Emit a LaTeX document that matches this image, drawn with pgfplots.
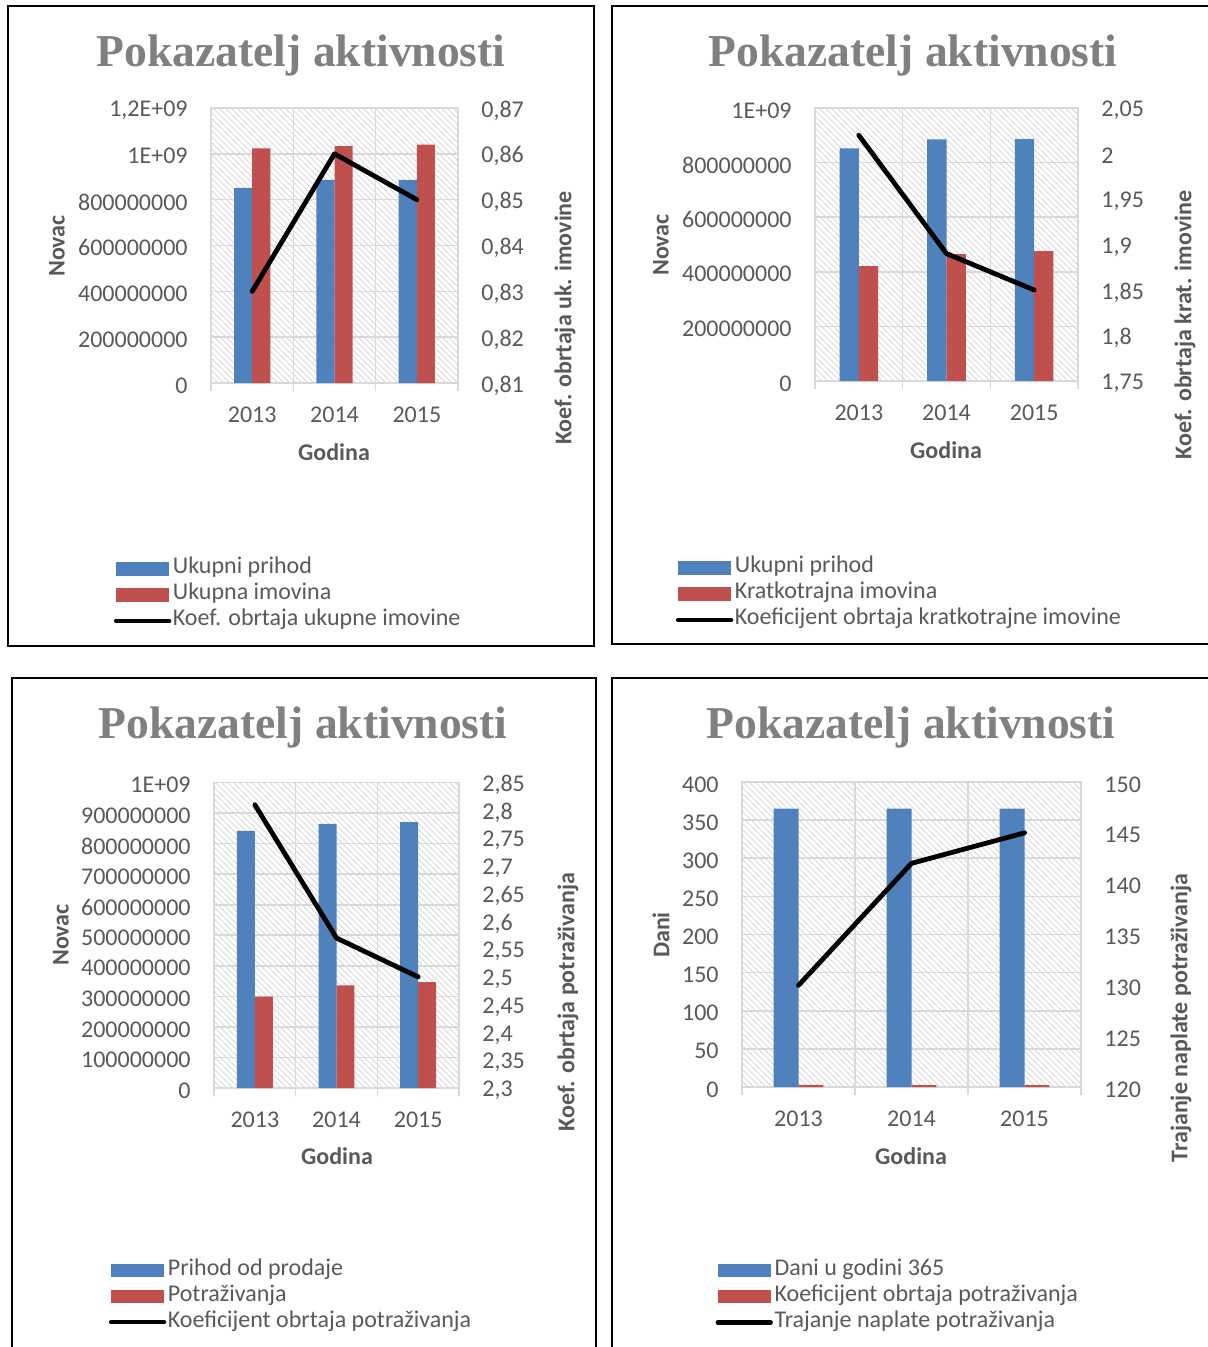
\documentclass[border=0pt]{standalone}
\usepackage{fontspec}
\setmainfont{Carlito}
\newfontfamily\titlefont{Liberation Serif}
\usepackage{pgfplots}
\pgfplotsset{compat=1.18}
\usetikzlibrary{patterns}

\definecolor{txt}{HTML}{595959}
\definecolor{gridc}{HTML}{D9D9D9}
\definecolor{blu}{HTML}{4F81BD}
\definecolor{rd}{HTML}{C0504D}
\definecolor{ttl}{HTML}{808080}

\newcommand\tfont{\fontsize{12}{14}\selectfont}

\pgfplotsset{
  prim/.style={
    scale only axis, anchor=south west,
    xmin=-0.5, xmax=2.5,
    xtick={0,1,2}, xticklabels={2013,2014,2015},
    minor xtick={-0.5,0.5,1.5,2.5},
    xminorgrids=true, ymajorgrids=true,
    scaled y ticks=false,
    tick align=outside, major tick length=0pt, minor tick length=4pt,
    xtick pos=left, ytick pos=left,
    major tick style={draw=none},
    minor tick style={draw=gridc, line width=0.8pt},
    grid style={draw=gridc, line width=0.8pt},
    minor grid style={draw=gridc, line width=0.8pt},
    axis line style={draw=gridc, line width=0.8pt},
    axis background/.style={pattern=north west lines, pattern color=black!15},
    tick label style={font=\tfont, text=txt},
    yticklabel style={anchor=east, inner sep=0pt, xshift=-11.5pt, yshift=-1.2pt},
    xticklabel style={anchor=north, inner sep=0pt, yshift=-12pt},
    legend style={draw=none, fill=none, anchor=north west, inner sep=0pt, outer sep=0pt,
      font=\tfont, text=txt, row sep=0pt, column sep=0.8pt,
      nodes={inner sep=0pt, text height=9pt, text depth=4pt}},
    legend cell align=left,
  },
  sec/.style={
    scale only axis, anchor=south west,
    xmin=-0.5, xmax=2.5,
    scaled y ticks=false,
    axis x line=none, axis y line*=right,
    y axis line style={draw=none},
    major tick length=0pt, ytick style={draw=none},
    tick label style={font=\tfont, text=txt},
    yticklabel style={anchor=west, inner sep=0pt, xshift=11.5pt, yshift=-1.2pt},
  },
  blubar/.style={ybar, bar width=0.22, bar shift=-0.11, fill=blu, draw=none,
    legend image code/.code={\fill[blu] (0pt,-3.3pt) rectangle (26.5pt,3.3pt);}},
  redbar/.style={ybar, bar width=0.22, bar shift=0.11, fill=rd, draw=none,
    legend image code/.code={\fill[rd] (0pt,-3.3pt) rectangle (26.5pt,3.3pt);}},
  koef/.style={black, line width=2.4pt, mark=none, line join=round, line cap=round},
  koefleg/.style={legend image code/.code={\draw[black, line width=2.2pt, line cap=round] (0pt,0pt) -- (26.5pt,0pt);}},
}

\tikzset{
  ttl/.style={font=\titlefont\bfseries\fontsize{22.8}{26}\selectfont, text=ttl},
  lab/.style={font=\tfont\bfseries, text=txt},
  box/.style={draw=black, line width=1pt},
}

\begin{document}
\begin{tikzpicture}[x=0.5pt, y=-0.5pt]
\useasboundingbox (0,0) rectangle (1208,1347);

% panel frames
\draw[box] (8,6) rectangle (594,646);
\draw[box] (612,6) rectangle (1214,644);
\draw[box] (12,678) rectangle (596,1354);
\draw[box] (612,678) rectangle (1214,1354);

\coordinate (a1) at (211,383);
\coordinate (a2) at (815,381);
\coordinate (a3) at (214,1088);
\coordinate (a4) at (742,1087);

% ---------- panel 1
\begin{axis}[prim, at={(a1)}, width=123.5pt, height=137.5pt,
  ymin=0, ymax=1.2e9,
  ytick={0,2e8,4e8,6e8,8e8,1e9,1.2e9},
  yticklabels={0,200000000,400000000,600000000,800000000,1E+09,{1,2E+09}},
  legend style={at={(-0.393,-0.629)}}]
  \addplot[blubar] coordinates {(0,852000000) (1,886000000) (2,886000000)};
  \addlegendentry{Ukupni prihod}
  \addplot[redbar] coordinates {(0,1024000000) (1,1034000000) (2,1040000000)};
  \addlegendentry{Ukupna imovina}
  \addlegendimage{koefleg}
  \addlegendentry{Koef. obrtaja ukupne imovine}
\end{axis}
\begin{axis}[sec, at={(a1)}, width=123.5pt, height=137.5pt,
  ymin=0.81, ymax=0.87,
  ytick={0.81,0.82,0.83,0.84,0.85,0.86,0.87},
  yticklabels={{0,81},{0,82},{0,83},{0,84},{0,85},{0,86},{0,87}}]
  \addplot[koef] coordinates {(0,0.83) (1,0.86) (2,0.85)};
\end{axis}

% ---------- panel 2
\begin{axis}[prim, at={(a2)}, width=131.5pt, height=136.5pt,
  ymin=0, ymax=1e9,
  ytick={0,2e8,4e8,6e8,8e8,1e9},
  yticklabels={0,200000000,400000000,600000000,800000000,1E+09},
  legend style={at={(-0.529,-0.637)}}]
  \addplot[blubar] coordinates {(0,852000000) (1,885000000) (2,886000000)};
  \addlegendentry{Ukupni prihod}
  \addplot[redbar] coordinates {(0,421000000) (1,465000000) (2,476000000)};
  \addlegendentry{Kratkotrajna imovina}
  \addlegendimage{koefleg}
  \addlegendentry{Koeficijent obrtaja kratkotrajne imovine}
\end{axis}
\begin{axis}[sec, at={(a2)}, width=131.5pt, height=136.5pt,
  ymin=1.75, ymax=2.05,
  ytick={1.75,1.8,1.85,1.9,1.95,2,2.05},
  yticklabels={{1,75},{1,8},{1,85},{1,9},{1,95},2,{2,05}}]
  \addplot[koef] coordinates {(0,2.02) (1,1.89) (2,1.85)};
\end{axis}

% ---------- panel 3
\begin{axis}[prim, at={(a3)}, width=122.5pt, height=152.75pt,
  ymin=0, ymax=1e9,
  ytick={0,1e8,2e8,3e8,4e8,5e8,6e8,7e8,8e8,9e8,1e9},
  yticklabels={0,100000000,200000000,300000000,400000000,500000000,600000000,700000000,800000000,900000000,1E+09},
  legend style={at={(-0.429,-0.554)}}]
  \addplot[blubar] coordinates {(0,842000000) (1,865000000) (2,870000000)};
  \addlegendentry{Prihod od prodaje}
  \addplot[redbar] coordinates {(0,299000000) (1,336000000) (2,347000000)};
  \addlegendentry{Potraživanja}
  \addlegendimage{koefleg}
  \addlegendentry{Koeficijent obrtaja potraživanja}
\end{axis}
\begin{axis}[sec, at={(a3)}, width=122.5pt, height=152.75pt,
  ymin=2.3, ymax=2.85,
  ytick={2.3,2.35,2.4,2.45,2.5,2.55,2.6,2.65,2.7,2.75,2.8,2.85},
  yticklabels={{2,3},{2,35},{2,4},{2,45},{2,5},{2,55},{2,6},{2,65},{2,7},{2,75},{2,8},{2,85}}]
  \addplot[koef] coordinates {(0,2.81) (1,2.57) (2,2.50)};
\end{axis}

% ---------- panel 4
\begin{axis}[prim, at={(a4)}, width=169.5pt, height=152.5pt,
  ymin=0, ymax=400,
  ytick={0,50,100,150,200,250,300,350,400},
  yticklabels={0,50,100,150,200,250,300,350,400},
  legend style={at={(-0.078,-0.559)}}]
  \addplot[blubar] coordinates {(0,365) (1,365) (2,365)};
  \addlegendentry{Dani u godini 365}
  \addplot[redbar] coordinates {(0,2.81) (1,2.57) (2,2.51)};
  \addlegendentry{Koeficijent obrtaja potraživanja}
  \addlegendimage{koefleg}
  \addlegendentry{Trajanje naplate potraživanja}
\end{axis}
\begin{axis}[sec, at={(a4)}, width=169.5pt, height=152.5pt,
  ymin=120, ymax=150,
  ytick={120,125,130,135,140,145,150},
  yticklabels={120,125,130,135,140,145,150}]
  \addplot[koef] coordinates {(0,130) (1,142) (2,145)};
\end{axis}

% titles and axis titles
\node[ttl] at (301,56) {Pokazatelj aktivnosti};
\node[ttl] at (913,56) {Pokazatelj aktivnosti};
\node[ttl] at (303,728) {Pokazatelj aktivnosti};
\node[ttl] at (911,728) {Pokazatelj aktivnosti};

\node[lab, rotate=90] at (57,246) {Novac};
\node[lab, rotate=90] at (565,318) {Koef. obrtaja uk. imovine};
\node[lab] at (334,452) {Godina};

\node[lab, rotate=90] at (661,245) {Novac};
\node[lab, rotate=90] at (1185,325) {Koef. obrtaja krat. imovine};
\node[lab] at (946,450) {Godina};

\node[lab, rotate=90] at (61,935) {Novac};
\node[lab, rotate=90] at (568,1002) {Koef. obrtaja potraživanja};
\node[lab] at (337,1156) {Godina};

\node[lab, rotate=90] at (661,935) {Dani};
\node[lab, rotate=90] at (1181,1018) {Trajanje naplate potraživanja};
\node[lab] at (911,1156) {Godina};
\end{tikzpicture}
\end{document}
